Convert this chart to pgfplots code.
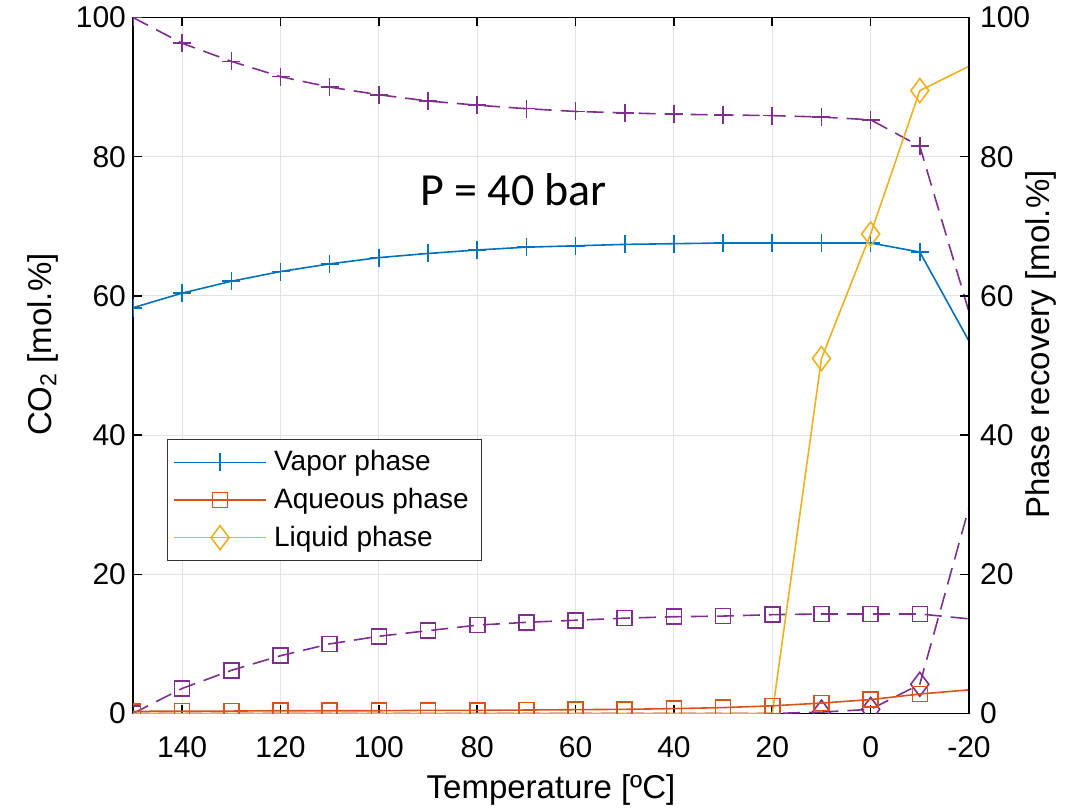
\documentclass[border=0pt]{standalone}
\usepackage{fontspec}
\setmainfont{Liberation Sans}
\newfontfamily\calibri{Carlito}
\usepackage{pgfplots}
\pgfplotsset{compat=1.18}

\definecolor{mblue}{rgb}{0,0.447,0.741}
\definecolor{morange}{rgb}{0.850,0.325,0.098}
\definecolor{myellow}{rgb}{0.929,0.694,0.125}
\definecolor{mpurple}{rgb}{0.494,0.184,0.556}

\pgfplotsset{
  common/.style={
    scale only axis, width=418pt, height=348pt,
    xmin=-20, xmax=150, x dir=reverse, ymin=0, ymax=100,
    xtick={-20,0,...,140}, ytick={0,20,...,100},
    tick align=inside, major tick length=4.3pt,
    tick style={black, line width=0.8pt},
    axis line style={black, line width=0.8pt},
    ticklabel style={font=\fontsize{15}{15}\selectfont},
    /pgf/number format/assume math mode=true,
    label style={font=\fontsize{16.5}{18}\selectfont},
  },
  recov/.style={mpurple, line width=0.8pt, dash pattern=on 8.5pt off 4.5pt, mark options={solid}},
}

\begin{document}
\begin{tikzpicture}
\begin{axis}[common, name=main,
  grid=major, grid style={gray!22, line width=0.5pt},
  xtick pos=both, ytick pos=left,
  clip marker paths=true,
  xticklabel shift=8pt,
  xlabel={Temperature [ºC]},
  xlabel style={at={(axis description cs:0.5,-0.11)}, anchor=center},
  ylabel={CO\textsubscript{2} [mol.\%]},
  ylabel style={at={(axis description cs:-0.108,0.53)}, anchor=center},
  legend cell align=left,
  legend style={at={(axis description cs:0.0403,0.2195)}, anchor=south west,
    draw=black!80, line width=0.6pt, fill=white,
    font=\fontsize{14}{16}\selectfont,
    inner xsep=3pt, inner ysep=1.8pt, row sep=0pt,
    nodes={inner sep=3.6pt}},
  legend image code/.code={\draw[mark repeat=2, mark phase=2] plot coordinates {(0pt,0pt) (23pt,0pt) (46pt,0pt)};},
]
% phase recovery (dashed, right scale)
\addplot[recov, mark=+, mark size=4.5pt, forget plot] coordinates {
 (150,100) (140,96.3) (130,93.7) (120,91.5) (110,90.0) (100,88.9) (90,88.0) (80,87.4) (70,86.9)
 (60,86.5) (50,86.3) (40,86.1) (30,86.0) (20,85.9) (10,85.7) (0,85.3) (-10,81.5) (-30,33.9)};
\addplot[recov, mark=square, mark size=3.75pt, forget plot] coordinates {
 (150,0) (140,3.6) (130,6.2) (120,8.3) (110,10.0) (100,11.1) (90,11.9) (80,12.7) (70,13.1)
 (60,13.4) (50,13.7) (40,13.9) (30,14.0) (20,14.2) (10,14.3) (0,14.3) (-10,14.3) (-30,12.9)};
\addplot[recov, forget plot] coordinates {
 (150,0) (140,0) (130,0) (120,0) (110,0) (100,0) (90,0) (80,0) (70,0)
 (60,0) (50,0) (40,0) (30,0) (20,0) (10,0.2)};
\addplot[recov, mark=diamond, mark size=6pt, forget plot] coordinates {
 (10,0.2) (0,0.6) (-10,4.2) (-30,55.0)};
% CO2 content of each phase (solid, left scale)
\addplot[myellow, line width=0.8pt, forget plot] coordinates {
 (150,0) (140,0) (130,0) (120,0) (110,0) (100,0) (90,0) (80,0) (70,0)
 (60,0) (50,0) (40,0) (30,0) (20,0) (10,51.0)};
\addplot[mblue, line width=0.8pt, mark=+, mark size=4.5pt] coordinates {
 (150,58.3) (140,60.4) (130,62.1) (120,63.5) (110,64.6) (100,65.5) (90,66.1) (80,66.6) (70,67.0)
 (60,67.2) (50,67.4) (40,67.5) (30,67.6) (20,67.6) (10,67.6) (0,67.6) (-10,66.3) (-30,40.7)};
\addplot[morange, line width=0.8pt, mark=square, mark size=3.75pt] coordinates {
 (150,0.3) (140,0.35) (130,0.35) (120,0.4) (110,0.4) (100,0.4) (90,0.45) (80,0.45) (70,0.5)
 (60,0.55) (50,0.6) (40,0.7) (30,0.85) (20,1.1) (10,1.5) (0,2.0) (-10,2.8) (-30,4.0)};
\addplot[myellow, line width=0.8pt, mark=diamond, mark size=6pt] coordinates {
 (10,51.0) (0,68.9) (-10,89.5) (-30,96.5)};
\legend{Vapor phase, Aqueous phase, Liquid phase}
\node[font=\calibri\fontsize{23}{23}\selectfont, anchor=base] at (axis cs:72.6,73.0) {P = 40 bar};
\end{axis}
\begin{axis}[common, axis y line*=right, axis x line=none,
  yticklabel shift=2pt,
  ylabel={Phase recovery [mol.\%]},
  ylabel style={at={(axis description cs:1.086,0.53)}, anchor=center},
]
\end{axis}
\pgfresetboundingbox
\path[use as bounding box] ([shift={(-66.5pt,-47.75pt)}]main.south west) rectangle ++(540.5pt,404.5pt);
\end{tikzpicture}
\end{document}
